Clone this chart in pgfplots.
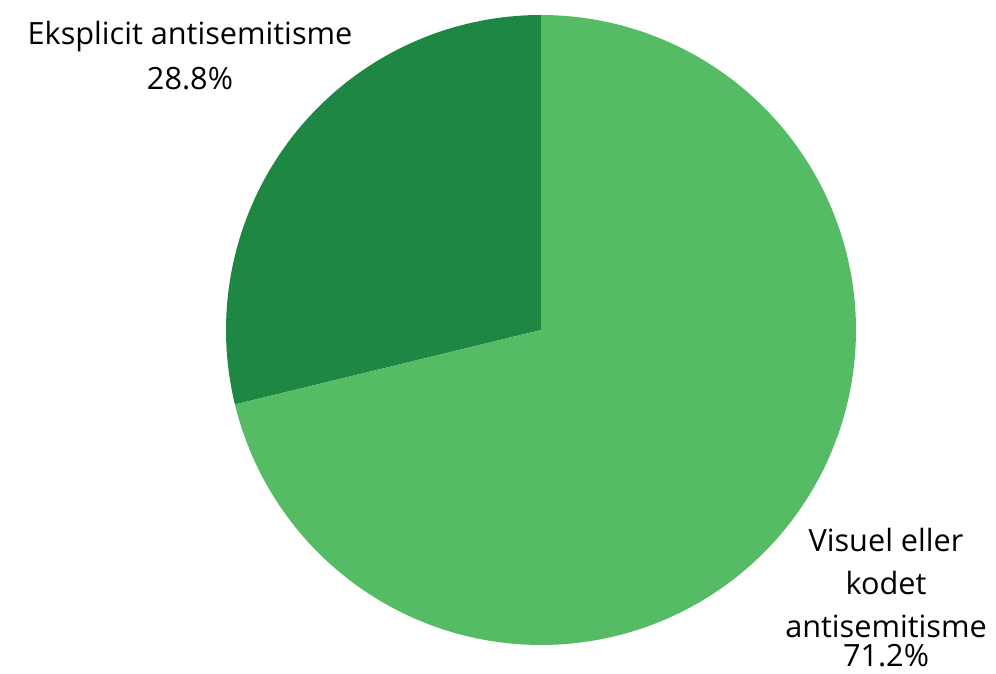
\documentclass[border=0pt]{standalone}
\usepackage{pgfplots}
\pgfplotsset{compat=1.18}
\usepackage{fontspec}
\setmainfont{Open Sans}
\definecolor{lightg}{HTML}{55BB65}
\definecolor{darkg}{HTML}{1E8744}
% data: shares in percent
\def\valA{28.8}% Eksplicit antisemitisme
\def\valB{71.2}% Visuel eller kodet antisemitisme
\begin{document}
\begin{tikzpicture}
\pgfmathsetmacro{\angA}{90+\valA*3.6}
\pgfmathsetmacro{\angB}{\angA+\valB*3.6}
\begin{axis}[
  scale only axis, width=747pt, height=505.5pt,
  xmin=0, xmax=996, ymin=0, ymax=674,
  hide axis, clip=false,
]
\addplot[fill=darkg, draw=none, domain=90:\angA, samples=150, variable=\t]
  ({541+315*cos(\t)},{344+315*sin(\t)}) -- (axis cs:541,344) -- cycle;
\addplot[fill=lightg, draw=none, domain=\angA:\angB, samples=300, variable=\t]
  ({541+315*cos(\t)},{344+315*sin(\t)}) -- (axis cs:541,344) -- cycle;
\begin{scope}[every node/.style={anchor=base, inner sep=0pt, font=\fontsize{23}{32}\selectfont}]
\node at (axis cs:190,629) {Eksplicit antisemitisme};
\node at (axis cs:190,584) {28.8\%};
\node at (axis cs:886,122) {Visuel eller};
\node at (axis cs:886,79) {kodet};
\node at (axis cs:886,36) {antisemitisme};
\node at (axis cs:886,7) {71.2\%};
\end{scope}
\end{axis}
\pgfresetboundingbox
\path (current axis.south west) rectangle (current axis.north east);
\end{tikzpicture}
\end{document}
